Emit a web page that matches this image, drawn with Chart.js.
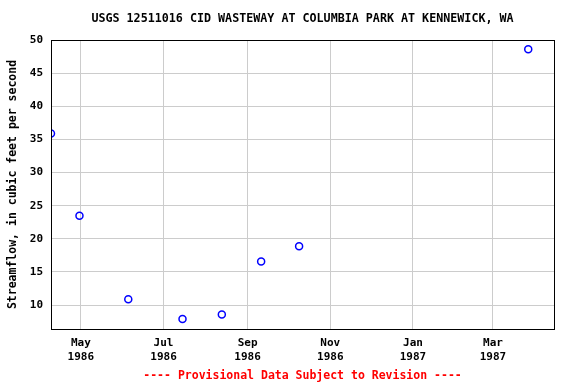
<!DOCTYPE html>
<html>
<head>
<meta charset="utf-8">
<script src="https://cdn.jsdelivr.net/npm/chart.js@4/dist/chart.umd.min.js"></script>
<style>
html,body{margin:0;padding:0;background:#fff;}
#wrap{width:576px;height:384px;position:relative;}
</style>
</head>
<body>
<div id="wrap"><canvas id="c" width="576" height="384"></canvas></div>
<script>
// Data
const sampleDates = ["1986-04-09","1986-04-30","1986-06-05","1986-07-15","1986-08-13","1986-09-11","1986-10-09","1987-03-27"];
const flowValues  = [35.9, 23.5, 10.9, 7.9, 8.6, 16.6, 18.9, 48.6];
const xTickDates  = ["1986-05-01","1986-07-01","1986-09-01","1986-11-01","1987-01-01","1987-03-01"];
const xTickLabels = [["May","1986"],["Jul","1986"],["Sep","1986"],["Nov","1986"],["Jan","1987"],["Mar","1987"]];
const yTickValues = [10,15,20,25,30,35,40,45,50];
const xRange = ["1986-04-09","1987-04-15"];
const yRange = [6.4, 50];

const day = s => Date.parse(s + "T00:00:00Z") / 86400000;
const xTicks = xTickDates.map(day);
const points = sampleDates.map((d, i) => ({x: day(d), y: flowValues[i]}));

const FONT = "'DejaVu Sans Mono', monospace";

const frame = {
  id: 'frame',
  afterDraw(chart) {
    const a = chart.chartArea, ctx = chart.ctx;
    ctx.save();
    ctx.strokeStyle = '#000';
    ctx.lineWidth = 1;
    ctx.strokeRect(Math.round(a.left) + 0.5, Math.round(a.top) + 0.5,
                   Math.round(a.right - a.left), Math.round(a.bottom - a.top));
    ctx.restore();
  }
};

new Chart(document.getElementById('c'), {
  type: 'scatter',
  data: {
    datasets: [{
      data: points,
      showLine: false,
      pointStyle: 'circle',
      pointRadius: 3.5,
      pointHoverRadius: 3.5,
      borderColor: '#0000ff',
      backgroundColor: 'rgba(0,0,0,0)',
      pointBorderWidth: 1.5
    }]
  },
  options: {
    responsive: false,
    animation: false,
    layout: {padding: {left: 0, right: 22, top: 0, bottom: 0}},
    plugins: {
      legend: {display: false},
      tooltip: {enabled: false},
      title: {
        display: true,
        fullSize: false,
        text: 'USGS 12511016 CID WASTEWAY AT COLUMBIA PARK AT KENNEWICK, WA',
        color: '#000',
        font: {family: FONT, size: 11.7, weight: 'bold', lineHeight: 1.2},
        padding: {top: 12, bottom: 13.96}
      },
      subtitle: {
        display: true,
        fullSize: false,
        position: 'bottom',
        text: '---- Provisional Data Subject to Revision ----',
        color: '#ff0000',
        font: {family: FONT, size: 11.5, weight: 'bold', lineHeight: 1.2},
        padding: {top: 4, bottom: 1.5}
      }
    },
    scales: {
      x: {
        type: 'linear',
        min: day(xRange[0]),
        max: day(xRange[1]),
        afterBuildTicks: s => { s.ticks = xTicks.map(v => ({value: v})); },
        afterFit: s => { s.height = 35.7; },
        ticks: {
          autoSkip: false,
          maxRotation: 0,
          color: '#000',
          padding: 8,
          font: {family: FONT, size: 11, weight: 'bold', lineHeight: 1.2},
          callback: (v) => { const i = xTicks.indexOf(v); return i >= 0 ? xTickLabels[i] : ''; }
        },
        grid: {color: '#cccccc', drawTicks: false, lineWidth: 1},
        border: {color: '#000', width: 1}
      },
      y: {
        type: 'linear',
        min: yRange[0],
        max: yRange[1],
        afterBuildTicks: s => { s.ticks = yTickValues.map(v => ({value: v})); },
        afterFit: s => { s.width = 51; },
        ticks: {
          color: '#000',
          padding: 8,
          font: {family: FONT, size: 11, weight: 'bold'},
          callback: v => String(v)
        },
        grid: {color: '#cccccc', drawTicks: false, lineWidth: 1},
        border: {color: '#000', width: 1},
        title: {
          display: true,
          text: 'Streamflow, in cubic feet per second',
          color: '#000',
          font: {family: FONT, size: 11.5, weight: 'bold', lineHeight: 1.2},
          padding: {top: 6, bottom: 0}
        }
      }
    }
  },
  plugins: [frame]
});
</script>
</body>
</html>
